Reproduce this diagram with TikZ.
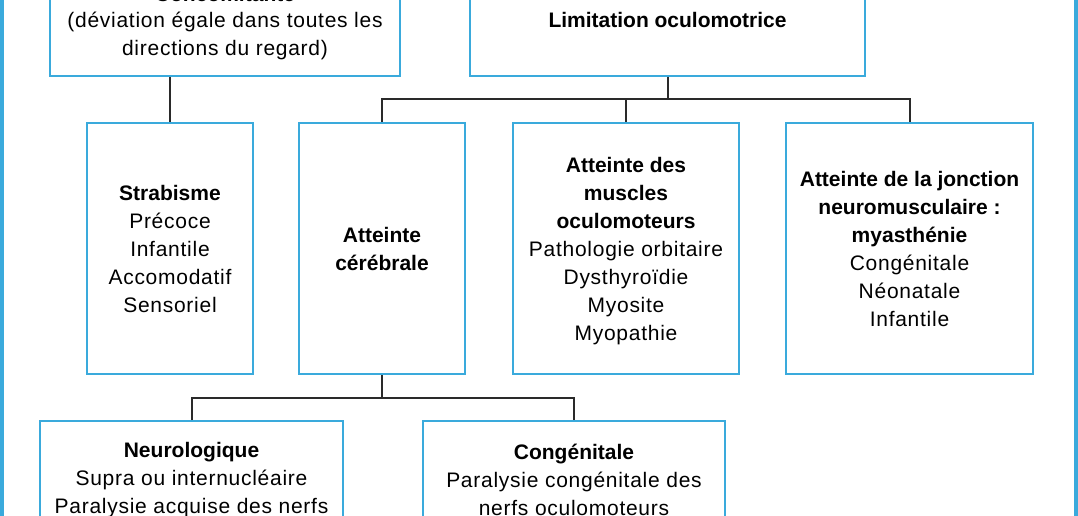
\documentclass[tikz,border=0pt]{standalone}
\usepackage{fontspec}
\setmainfont{Liberation Sans}[LetterSpace=3.5, BoldFeatures={LetterSpace=0}]
\definecolor{boxblue}{HTML}{3AAADC}
\definecolor{linegray}{HTML}{2A2A2A}
\begin{document}
\begin{tikzpicture}[x=1pt,y=-1pt,
  box/.style={draw=boxblue, line width=2pt, rectangle, align=center, inner sep=0pt, font=\fontsize{21}{28}\selectfont, text=black},
  txt/.style={inner sep=0pt, font=\fontsize{21}{28}\selectfont, text=black},
  conn/.style={draw=linegray, line width=2pt},
  framel/.style={draw=boxblue, line width=3.6pt}]
\useasboundingbox (0,0) rectangle (1078,516);
\fill[white] (0,0) rectangle (1078,516);
% frame
\coordinate (fl1) at (1.8,-5);
\coordinate (fl2) at (1.8,525);
\coordinate (fr1) at (1076,-5);
\coordinate (fr2) at (1076,525);
\draw[framel] (fl1) -- (fl2);
\draw[framel] (fr1) -- (fr2);
% boxes
\node[box, minimum width=350pt, minimum height=81pt] (tl) at (225,35.5)
  {(déviation égale dans toutes les\\directions du regard)};
\node[txt, anchor=base] (conc) at (225,2) {\textbf{Concomitante}};
\node[box, minimum width=395pt, minimum height=112pt] (tr) at (667.5,20)
  {\textbf{Limitation oculomotrice}};
\node[box, minimum width=166pt, minimum height=251pt] (strab) at (170,248.5)
  {\textbf{Strabisme}\\Précoce\\Infantile\\Accomodatif\\Sensoriel};
\node[box, minimum width=166pt, minimum height=251pt] (cereb) at (382,248.5)
  {\textbf{Atteinte}\\\textbf{cérébrale}};
\node[box, minimum width=226pt, minimum height=251pt, text depth=0pt] (musc) at (626,248.5)
  {\textbf{Atteinte des}\\\textbf{muscles}\\\textbf{oculomoteurs}\\Pathologie orbitaire\\Dysthyroïdie\\Myosite\\Myopathie};
\node[box, minimum width=247pt, minimum height=251pt] (jonc) at (909.5,248.5)
  {\textbf{Atteinte de la jonction}\\\textbf{neuromusculaire :}\\\textbf{myasthénie}\\Congénitale\\Néonatale\\Infantile};
\node[box, minimum width=303pt, minimum height=118pt] (neuro) at (191.5,480)
  {\textbf{Neurologique}\\Supra ou internucléaire\\Paralysie acquise des nerfs};
\node[box, minimum width=302pt, minimum height=118pt] (cong) at (574,480)
  {\textbf{Congénitale}\\Paralysie congénitale des\\nerfs oculomoteurs};
% connectors
\coordinate (bus1) at (0,99.5);
\coordinate (bus2) at (0,397.5);
\draw[conn] (strab.north |- tl.south) -- (strab.north);
\draw[conn] (tr.south) -- (tr.south |- bus1);
\draw[conn] (cereb.north) -- (cereb.north |- bus1) -- (jonc.north |- bus1) -- (jonc.north);
\draw[conn] (musc.north |- bus1) -- (musc.north);
\draw[conn] (cereb.south) -- (cereb.south |- bus2);
\draw[conn] (neuro.north) -- (neuro.north |- bus2) -- (cong.north |- bus2) -- (cong.north);
\end{tikzpicture}
\end{document}
